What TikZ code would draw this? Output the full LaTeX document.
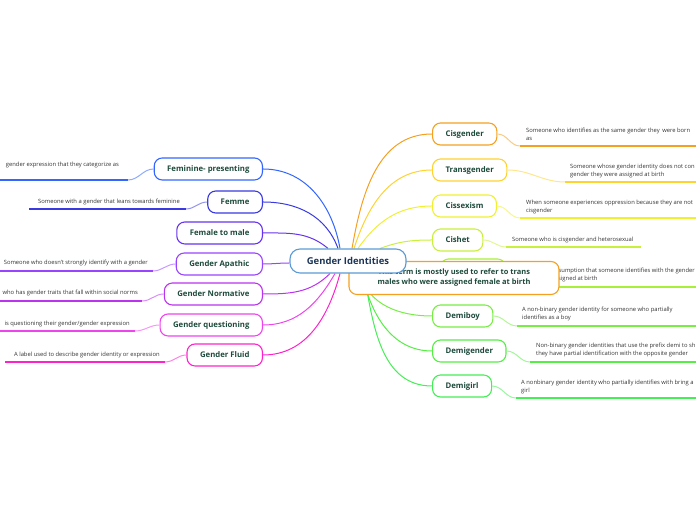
\documentclass[tikz,border=0pt]{standalone}
\usepackage{fontspec}
\setmainfont{Open Sans}
\usepackage{tikz}
\usetikzlibrary{shapes,arrows}
\pgfdeclarelayer{front}
\pgfsetlayers{main,front}

\definecolor{gititle}{HTML}{1C3557}
\definecolor{gilabel}{HTML}{1E4A3C}
\definecolor{ginotetext}{HTML}{333333}
\definecolor{gicentre}{HTML}{5B9BD5}
\definecolor{gifeminine}{HTML}{3366FF}
\definecolor{gifemme}{HTML}{3A3AE0}
\definecolor{giftm}{HTML}{6633EE}
\definecolor{giapathic}{HTML}{9944FF}
\definecolor{ginormative}{HTML}{BB33EE}
\definecolor{giquestion}{HTML}{EE44EE}
\definecolor{gifluid}{HTML}{FF22CC}
\definecolor{gicis}{HTML}{F5A020}
\definecolor{gitrans}{HTML}{FFD230}
\definecolor{gisexism}{HTML}{F0F030}
\definecolor{gicishet}{HTML}{C8F03C}
\definecolor{ginorm}{HTML}{A6F03A}
\definecolor{gidemiboy}{HTML}{77EE44}
\definecolor{gidemigender}{HTML}{55EE44}
\definecolor{gidemigirl}{HTML}{44EE55}

\tikzset{
  topic/.style={rounded corners=8bp, line width=1.1bp, fill=white, minimum height=22bp, inner xsep=13bp, font=\fontsize{7.8}{9}\selectfont\bfseries, text=gilabel},
  note/.style={font=\fontsize{5.85}{9}\selectfont, text=ginotetext, align=left, inner sep=0pt},
  branch/.style={line width=1bp},
  noteline/.style={line width=1.5bp}
}

\newcommand{\gilefttopic}[4] {\node at (#1) (#2) [topic, anchor=east, draw=#3] {#4};}
\newcommand{\girighttopic}[4] {\node at (#1) (#2) [topic, anchor=west, draw=#3] {#4};}
\newcommand{\gibranch}[4] {\draw [branch, draw=#4] (#1) to [#3] (#2);}
\newcommand{\gileftnote}[7] {\node at (#2) (#3) [note, anchor=base east] {#7};
  \coordinate (#3-a) at (#5); \coordinate (#3-b) at (#4);
  \draw [branch, draw=#6!55] (#1.west) to [out=180, in=0] (#3-a);
  \draw [noteline, draw=#6] (#3-a) -- (#3-b);}
\newcommand{\girightnote}[7] {\node at (#2) (#3) [note, anchor=base west] {#7};
  \coordinate (#3-a) at (#4); \coordinate (#3-b) at (#5);
  \draw [branch, draw=#6!55] (#1.east) to [out=0, in=180] (#3-a);
  \draw [noteline, draw=#6] (#3-a) -- (#3-b);}

\begin{document}
\begin{tikzpicture}[x=1bp, y=1bp]
\useasboundingbox (0,0) rectangle (696,520);

% centre
\begin{pgfonlayer}{front}
\node at (348,259) (gi) [rounded corners=10bp, draw=gicentre, line width=1.1bp, fill=white, minimum width=116bp, minimum height=24bp, font=\fontsize{9.5}{11}\selectfont\bfseries, text=gititle] {Gender Identities};
\end{pgfonlayer}

% left topics
\gilefttopic {263,351} {feminine} {gifeminine} {Feminine- presenting};
\gilefttopic {263,318} {femme} {gifemme} {Femme};
\gilefttopic {263,287} {ftm} {giftm} {Female to male};
\gilefttopic {263,256} {apathic} {giapathic} {Gender Apathic};
\gilefttopic {263,226} {normative} {ginormative} {Gender Normative};
\gilefttopic {263,195} {questioning} {giquestion} {Gender questioning};
\gilefttopic {263,165} {fluid} {gifluid} {Gender Fluid};

% right topics
\girighttopic {432,386} {cisgender} {gicis} {Cisgender};
\girighttopic {432,350} {transgender} {gitrans} {Transgender};
\girighttopic {432,314} {cissexism} {gisexism} {Cissexism};
\girighttopic {432,280} {cishet} {gicishet} {Cishet};
\node at (440,250) (cisnorm) [topic, anchor=west, draw=ginorm, minimum width=65bp] {};
\girighttopic {432,204} {demiboy} {gidemiboy} {Demiboy};
\girighttopic {432,169} {demigender} {gidemigender} {Demigender};
\girighttopic {432,134} {demigirl} {gidemigirl} {Demigirl};

% branches
\gibranch{[xshift=-8bp]gi.north}{feminine.east}{out=100, in=0}{gifeminine};
\gibranch{[xshift=-10bp]gi.north}{femme.east}{out=110, in=0}{gifemme};
\gibranch{[xshift=-20bp]gi.north}{ftm.east}{out=140, in=0}{giftm};
\gibranch{[yshift=-2bp]gi.west}{apathic.east}{out=180, in=0}{giapathic};
\gibranch{[xshift=-18bp]gi.south}{normative.east}{out=225, in=0}{ginormative};
\gibranch{[xshift=-13bp]gi.south}{questioning.east}{out=240, in=0}{giquestion};
\gibranch{[xshift=-8bp]gi.south}{fluid.east}{out=255, in=0}{gifluid};
\gibranch{[xshift=4bp]gi.north}{cisgender.west}{out=80, in=180}{gicis};
\gibranch{[xshift=6bp]gi.north}{transgender.west}{out=72, in=180}{gitrans};
\gibranch{[xshift=10bp]gi.north}{cissexism.west}{out=55, in=180}{gisexism};
\gibranch{[xshift=32bp]gi.north}{cishet.west}{out=20, in=180}{gicishet};
\gibranch{[xshift=30bp]gi.south}{cisnorm.west}{out=-20, in=180}{ginorm};
\gibranch{[xshift=12bp]gi.south}{demiboy.west}{out=-75, in=180}{gidemiboy};
\gibranch{[xshift=14bp]gi.south}{demigender.west}{out=-78, in=180}{gidemigender};
\gibranch{[xshift=16bp]gi.south}{demigirl.west}{out=-80, in=180}{gidemigirl};

% notes
\gileftnote{feminine}{119,353}{feminine-note}{0,340}{128,340}{gifeminine}{gender expression that they categorize as};
\gileftnote{femme}{180,316}{femme-note}{29,311}{186,311}{gifemme}{Someone with a gender that leans towards feminine};
\gileftnote{apathic}{148,255}{apathic-note}{0,249}{153,249}{giapathic}{Someone who doesn't strongly identify with a gender};
\gileftnote{normative}{138,225}{normative-note}{0,219}{142,219}{ginormative}{who has gender traits that fall within social norms};
\gileftnote{questioning}{130,194}{questioning-note}{0,189}{135,189}{giquestion}{is questioning their gender/gender expression};
\gileftnote{fluid}{160,163}{fluid-note}{5,158}{165,158}{gifluid}{A label used to describe gender identity or expression};

\girightnote{cisgender}{526,379}{cisgender-note}{520,374}{700,374}{gicis}{Someone who identifies as the same gender they\, were born\\as};
\girightnote{transgender}{570,343}{transgender-note}{565,338}{700,338}{gitrans}{Someone whose gender identity does not con\\gender they were assigned at birth};
\girightnote{cissexism}{526,307}{cissexism-note}{520,302}{700,302}{gisexism}{When someone experiences oppression because they are not\\cisgender};
\girightnote{cishet}{512,278}{cishet-note}{506,273}{641,273}{gicishet}{Someone who is cisgender and heterosexual};
\girightnote{cisnorm}{552,239}{cisnorm-note}{546,233}{700,233}{ginorm}{Assumption that someone identifies with the gender\\assigned at birth};
\girightnote{demiboy}{522,200}{demiboy-note}{517,194}{700,194}{gidemiboy}{A non-binary gender identity for someone who partially\\identifies as a boy};
\girightnote{demigender}{536,164}{demigender-note}{530,158}{700,158}{gidemigender}{Non-binary gender identities that use the prefix demi to sh\\they have partial identification with the opposite gender};
\girightnote{demigirl}{521,127}{demigirl-note}{516,122}{700,122}{gidemigirl}{A nonbinary gender identity who partially identifies with bring a\\girl};

% overlay
\node at (454,242) (giterm) [topic, draw=gicis, minimum width=210bp, minimum height=33bp, align=center, inner xsep=6bp, font=\fontsize{7.5}{10}\selectfont\bfseries] {This term is mostly used to refer to trans\\males who were assigned female at birth};
\end{tikzpicture}
\end{document}
